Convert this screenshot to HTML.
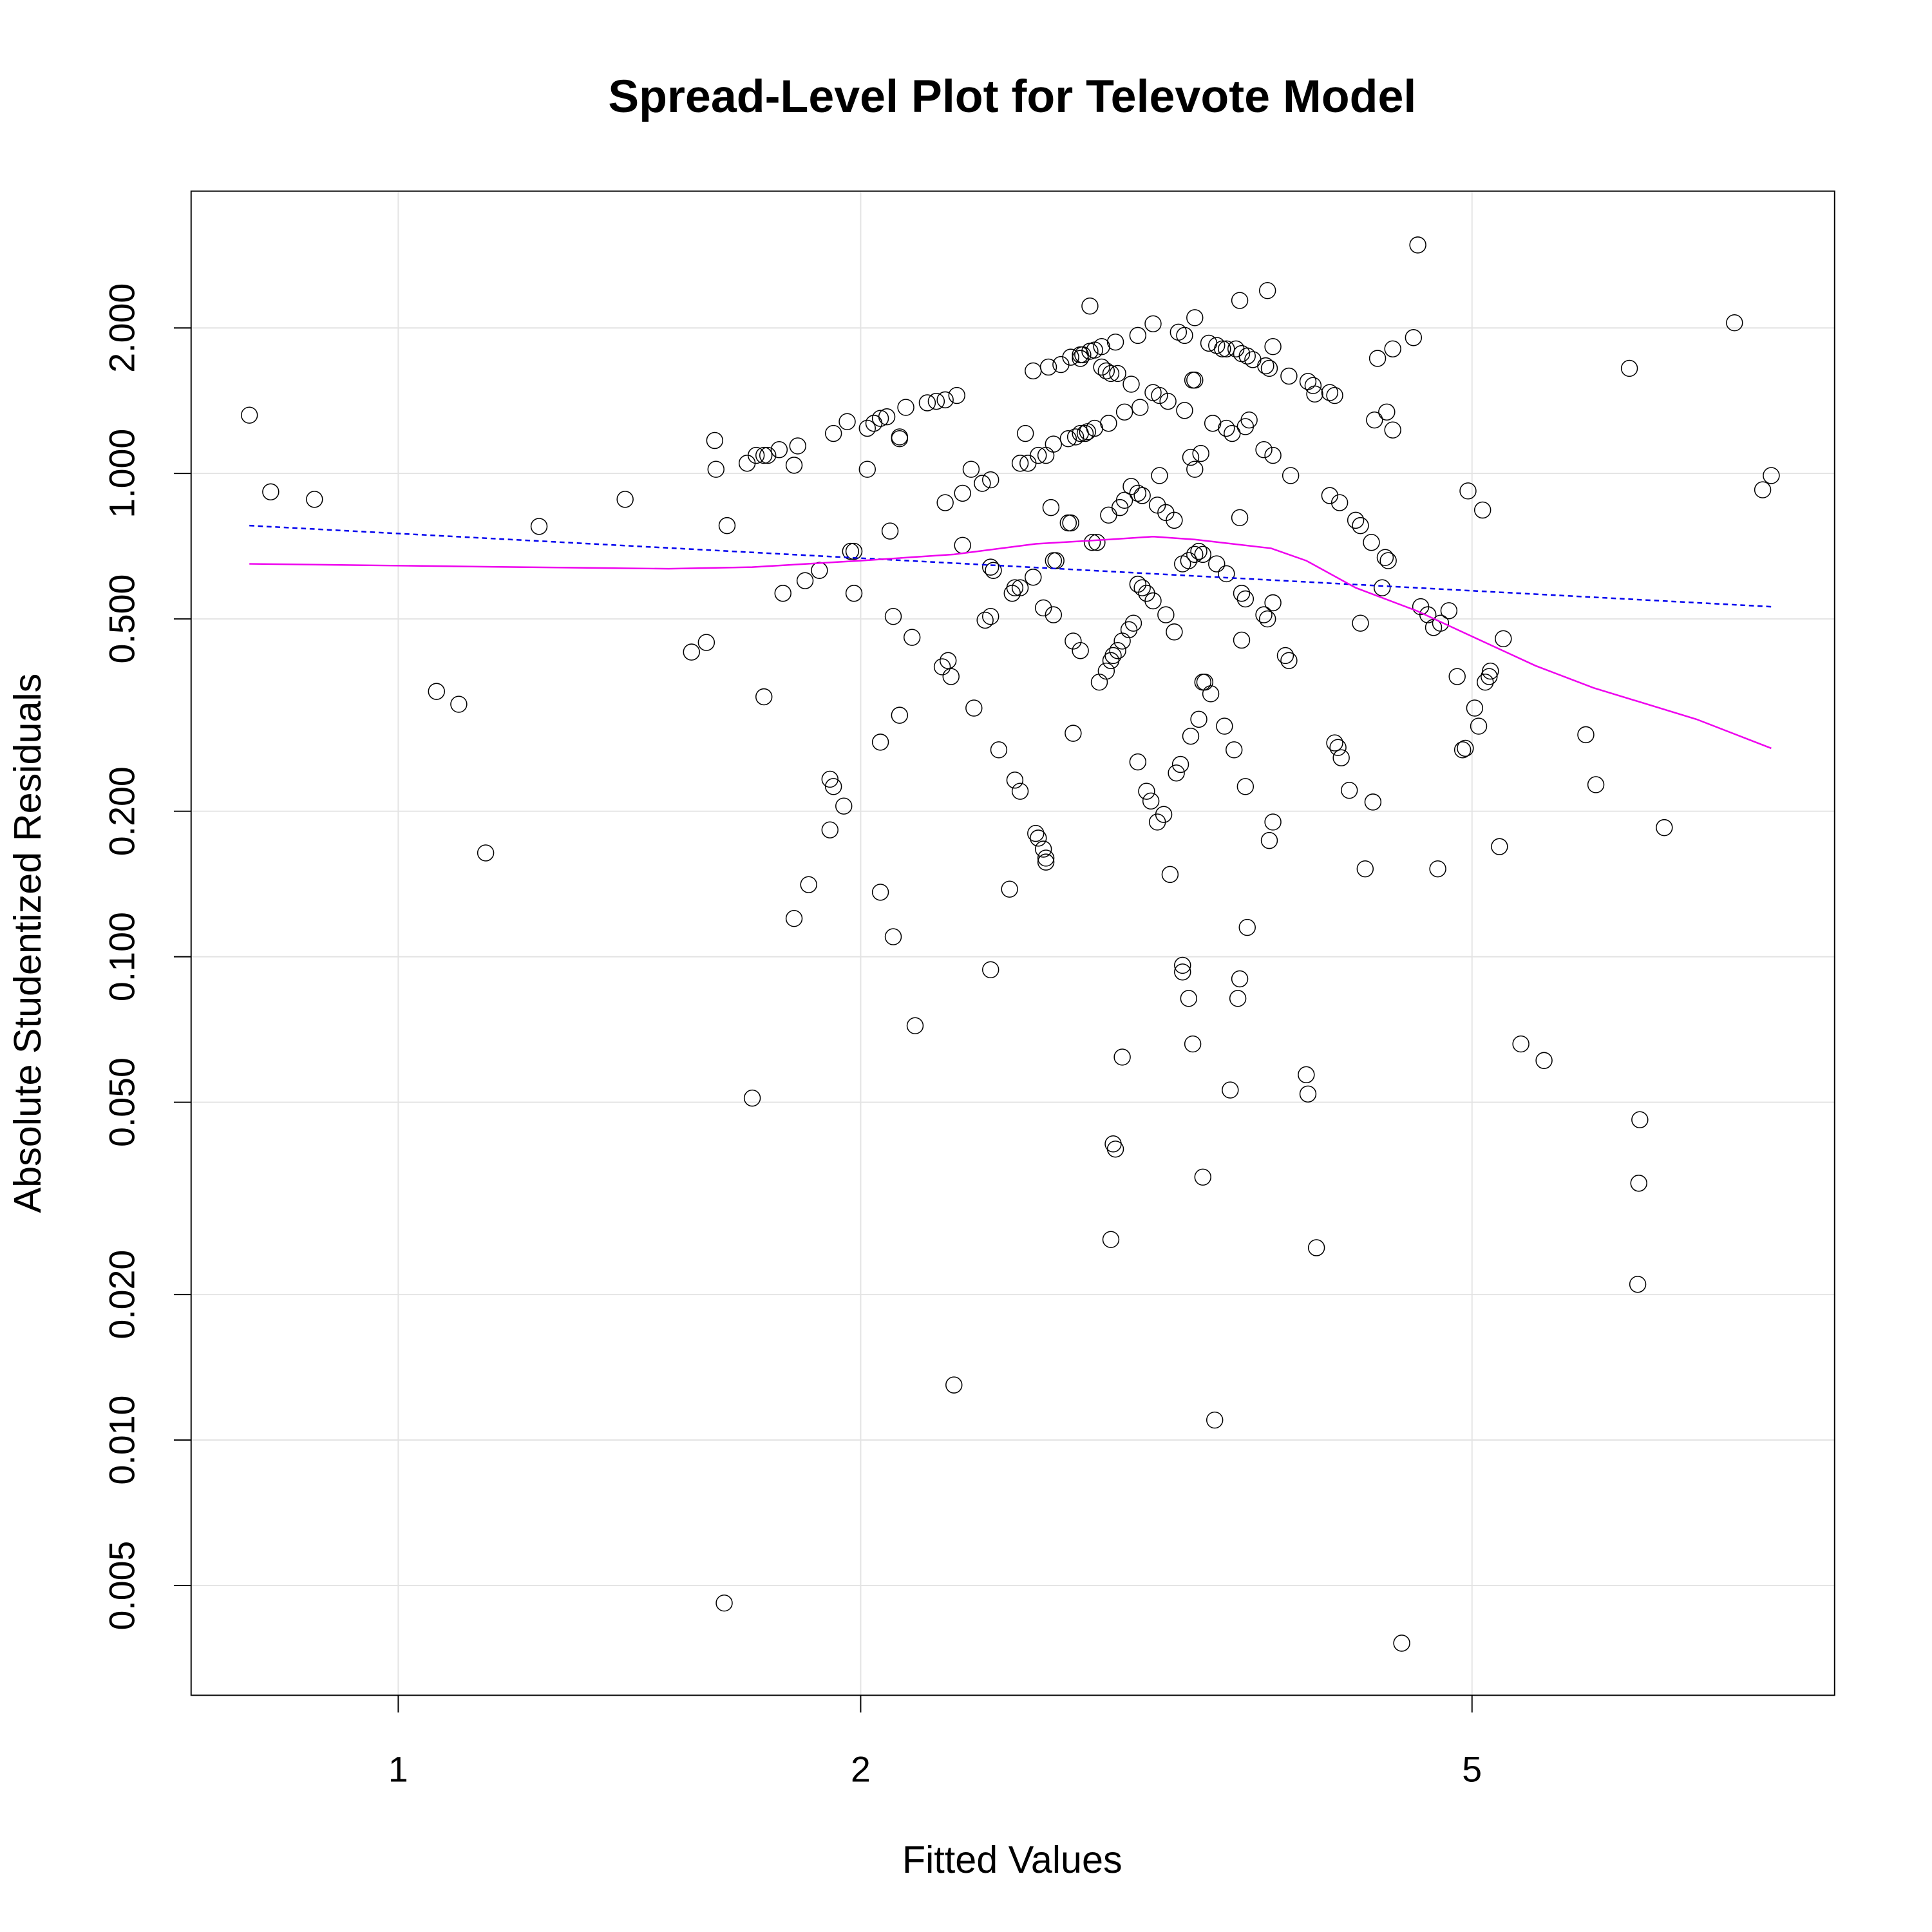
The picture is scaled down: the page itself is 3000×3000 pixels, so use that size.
<!DOCTYPE html>
<html><head><meta charset="utf-8">
<style>
html,body{margin:0;padding:0;background:#fff;}
svg{display:block;}
text{font-family:"Liberation Sans",Arial,sans-serif;fill:#000;}
</style></head>
<body>
<svg id="chart" width="3000" height="3000" viewBox="0 0 1567 1567" xmlns="http://www.w3.org/2000/svg">
<rect x="0" y="0" width="1567" height="1567" fill="#fff"/>
<text x="821" y="91" font-size="37.5" font-weight="bold" text-anchor="middle">Spread-Level Plot for Televote Model</text>
<g id="grid"></g>
<g id="axes"></g>
<g id="points"></g>
<g id="lines"></g>
<rect x="155" y="155" width="1333" height="1220" fill="none" stroke="#000" stroke-width="1"/>
<text x="821" y="1519" font-size="31" text-anchor="middle">Fitted Values</text>
<text transform="translate(33,765) rotate(-90)" font-size="31" text-anchor="middle">Absolute Studentized Residuals</text>
</svg>
<script>
const xTicks = [1, 2, 5];
const xTickLabels = ["1", "2", "5"];
const yTicks = [0.005, 0.01, 0.02, 0.05, 0.1, 0.2, 0.5, 1, 2];
const yTickLabels = ["0.005", "0.010", "0.020", "0.050", "0.100", "0.200", "0.500", "1.000", "2.000"];
const fitted = [0.80,0.826,0.882,1.059,1.095,1.14,1.235,1.405,1.552,1.587,1.607,1.61,1.63,1.637,1.687,1.70,1.71,1.73,1.73,1.74,1.77,1.78,1.81,1.81,1.82,1.84,1.85,1.88,1.91,1.91,1.92,1.92,1.95,1.96,1.97,1.98,1.98,2.02,2.02,2.04,2.06,2.06,2.06,2.08,2.09,2.10,2.10,2.12,2.12,2.12,2.14,2.16,2.17,2.21,2.24,2.27,2.31,2.26,2.27,2.28,2.29,2.30,2.33,2.33,2.36,2.37,2.40,2.41,2.43,2.43,2.43,2.43,2.44,2.46,2.50,2.51,2.52,2.54,2.52,2.54,2.54,2.56,2.57,2.59,2.59,2.60,2.61,2.63,2.64,2.64,2.61,2.63,2.64,2.65,2.66,2.67,2.68,2.67,2.67,2.70,2.73,2.73,2.74,2.74,2.75,2.75,2.76,2.78,2.78,2.79,2.78,2.78,2.80,2.81,2.82,2.82,2.84,2.83,2.85,2.84,2.86,2.87,2.87,2.89,2.91,2.94,2.90,2.89,2.91,2.92,2.94,2.96,2.90,2.91,2.92,2.93,2.93,2.95,2.96,2.97,2.97,2.99,3.0,3.00,3.03,3.05,3.03,3.03,3.01,3.03,3.05,3.07,3.04,3.07,3.09,3.10,3.10,3.10,3.13,3.17,3.12,3.12,3.13,3.15,3.16,3.16,3.18,3.20,3.20,3.21,3.23,3.22,3.24,3.24,3.27,3.24,3.27,3.30,3.32,3.34,3.25,3.25,3.28,3.28,3.29,3.30,3.30,3.29,3.30,3.32,3.34,3.35,3.33,3.34,3.37,3.41,3.44,3.46,3.38,3.39,3.40,3.41,3.45,3.46,3.46,3.49,3.48,3.50,3.52,3.53,3.53,3.53,3.51,3.54,3.57,3.60,3.54,3.54,3.56,3.56,3.56,3.57,3.58,3.66,3.66,3.67,3.69,3.68,3.69,3.68,3.71,3.71,3.71,3.71,3.78,3.80,3.80,3.81,3.90,3.91,3.91,3.94,3.95,3.96,4.04,4.04,4.07,4.09,4.11,4.07,4.10,4.16,4.2,4.23,4.23,4.26,4.30,4.31,4.32,4.34,4.37,4.39,4.41,4.40,4.44,4.44,4.50,4.58,4.61,4.63,4.68,4.72,4.77,4.75,4.83,4.89,4.93,4.95,4.97,5.02,5.05,5.08,5.10,5.13,5.14,5.21,5.24,5.38,5.57,5.93,6.02,6.33,6.41,6.42,6.43,6.67,7.41,7.73,7.83];
const residuals = [1.32,0.916,0.884,0.354,0.333,0.164,0.777,0.884,0.427,0.447,1.17,1.02,0.0046,0.78,1.05,0.051,1.09,0.345,1.09,1.09,1.12,0.565,1.04,0.12,1.14,0.6,0.141,0.63,0.233,0.183,0.225,1.21,0.205,1.28,0.69,0.565,0.69,1.02,1.24,1.27,1.30,0.278,0.136,1.31,0.76,0.506,0.11,1.19,1.18,0.316,1.37,0.458,0.072,1.40,1.41,1.42,1.45,0.398,0.87,0.41,0.38,0.013,0.71,0.91,1.02,0.327,0.954,0.497,0.97,0.64,0.094,0.506,0.63,0.268,0.138,0.565,0.58,0.58,0.232,0.22,1.05,1.21,1.05,1.63,0.61,0.18,0.176,0.167,0.16,0.157,1.09,0.527,1.09,1.66,0.85,0.66,0.66,0.51,1.15,1.68,1.18,0.79,0.79,1.74,0.29,0.45,1.19,1.73,1.76,1.76,0.43,1.21,1.21,1.22,2.22,1.79,1.80,0.72,0.72,1.24,0.37,1.83,1.66,1.63,1.61,1.61,1.27,0.39,0.41,0.42,0.43,0.45,0.82,0.026,0.041,0.04,1.87,0.85,0.062,1.34,0.88,0.475,1.53,0.94,0.91,0.9,0.253,1.93,0.49,0.59,0.58,0.565,1.37,0.22,0.21,0.545,2.04,1.47,1.45,1.41,0.86,0.19,0.99,0.197,0.83,0.51,0.148,0.8,0.47,0.24,0.25,1.96,0.096,0.093,0.082,0.65,0.66,0.68,0.69,0.68,1.93,1.35,1.08,0.286,1.56,1.56,2.10,0.066,1.02,0.31,0.37,0.37,1.10,0.035,1.86,1.84,1.81,1.81,0.35,1.27,0.011,0.65,0.30,0.62,1.24,1.21,0.053,0.268,0.082,0.81,0.090,2.28,1.81,1.77,1.75,1.72,0.452,0.565,0.55,1.25,0.225,0.115,1.29,1.12,0.51,1.67,1.65,2.39,0.174,0.50,1.09,0.19,0.54,1.83,0.42,0.41,1.59,0.99,0.057,0.052,1.55,1.52,1.46,0.025,1.47,0.90,0.277,0.271,0.258,1.45,0.87,0.221,0.80,0.78,0.49,0.152,0.72,0.209,1.29,1.73,0.58,0.67,0.66,1.34,1.23,1.81,0.0038,1.91,2.97,0.53,0.51,0.48,0.49,0.152,0.52,0.38,0.268,0.27,0.92,0.327,0.30,0.84,0.37,0.38,0.39,0.169,0.455,0.066,0.061,0.288,0.227,1.65,0.021,0.034,0.046,0.185,2.05,0.925,0.99];
const regX = [0.80, 7.83];
const regY = [0.78, 0.53];
const loessX = [0.80,1.2,1.5,1.7,2.0,2.3,2.6,2.9,3.1,3.3,3.7,3.9,4.2,4.6,5.0,5.5,6.0,7.0,7.83];
const loessY = [0.65,0.64,0.635,0.64,0.66,0.68,0.715,0.73,0.74,0.73,0.70,0.66,0.58,0.52,0.46,0.40,0.36,0.31,0.27];

const NS = "http://www.w3.org/2000/svg";
function sx(v){ return 323 + 1246 * Math.log10(v); }
function sy(v){ return 384 - 392 * Math.log10(v); }
function mk(tag, attrs, parent){
  const e = document.createElementNS(NS, tag);
  for (const k in attrs) e.setAttribute(k, attrs[k]);
  parent.appendChild(e);
  return e;
}
const grid = document.getElementById('grid');
const axes = document.getElementById('axes');
xTicks.forEach((t, i) => {
  const g = mk('line', {x1: sx(t), x2: sx(t), y1: 155, y2: 1375, stroke: '#e3e3e3', 'stroke-width': 1}, grid);
  
  
  const tk = mk('line', {x1: sx(t), x2: sx(t), y1: 1375, y2: 1389, stroke: '#000', 'stroke-width': 1}, axes);
  
  
  const lb = mk('text', {x: sx(t), y: 1445, 'font-size': 29, 'text-anchor': 'middle'}, axes);
  lb.textContent = xTickLabels[i];
  
  
});
yTicks.forEach((t, i) => {
  const g = mk('line', {x1: 155, x2: 1488, y1: sy(t), y2: sy(t), stroke: '#e3e3e3', 'stroke-width': 1}, grid);
  
  
  const tk = mk('line', {x1: 141, x2: 155, y1: sy(t), y2: sy(t), stroke: '#000', 'stroke-width': 1}, axes);
  
  
  const lb = mk('text', {transform: 'translate(109,' + sy(t) + ') rotate(-90)', 'font-size': 29, 'text-anchor': 'middle'}, axes);
  lb.textContent = yTickLabels[i];
  
  
});
const pts = document.getElementById('points');
fitted.forEach((x, i) => {
  const c = mk('circle', {cx: sx(x), cy: sy(residuals[i]), r: 6.5, fill: 'none', stroke: '#000', 'stroke-width': 0.8}, pts);
  
  
});
const lines = document.getElementById('lines');
const reg = mk('polyline', {points: regX.map((x, i) => sx(x) + ',' + sy(regY[i])).join(' '), fill: 'none', stroke: '#0000ee', 'stroke-width': 1.3, 'stroke-dasharray': '4,3'}, lines);


const lo = mk('polyline', {points: loessX.map((x, i) => sx(x) + ',' + sy(loessY[i])).join(' '), fill: 'none', stroke: '#ee00ee', 'stroke-width': 1.3}, lines);


</script>
</body></html>
